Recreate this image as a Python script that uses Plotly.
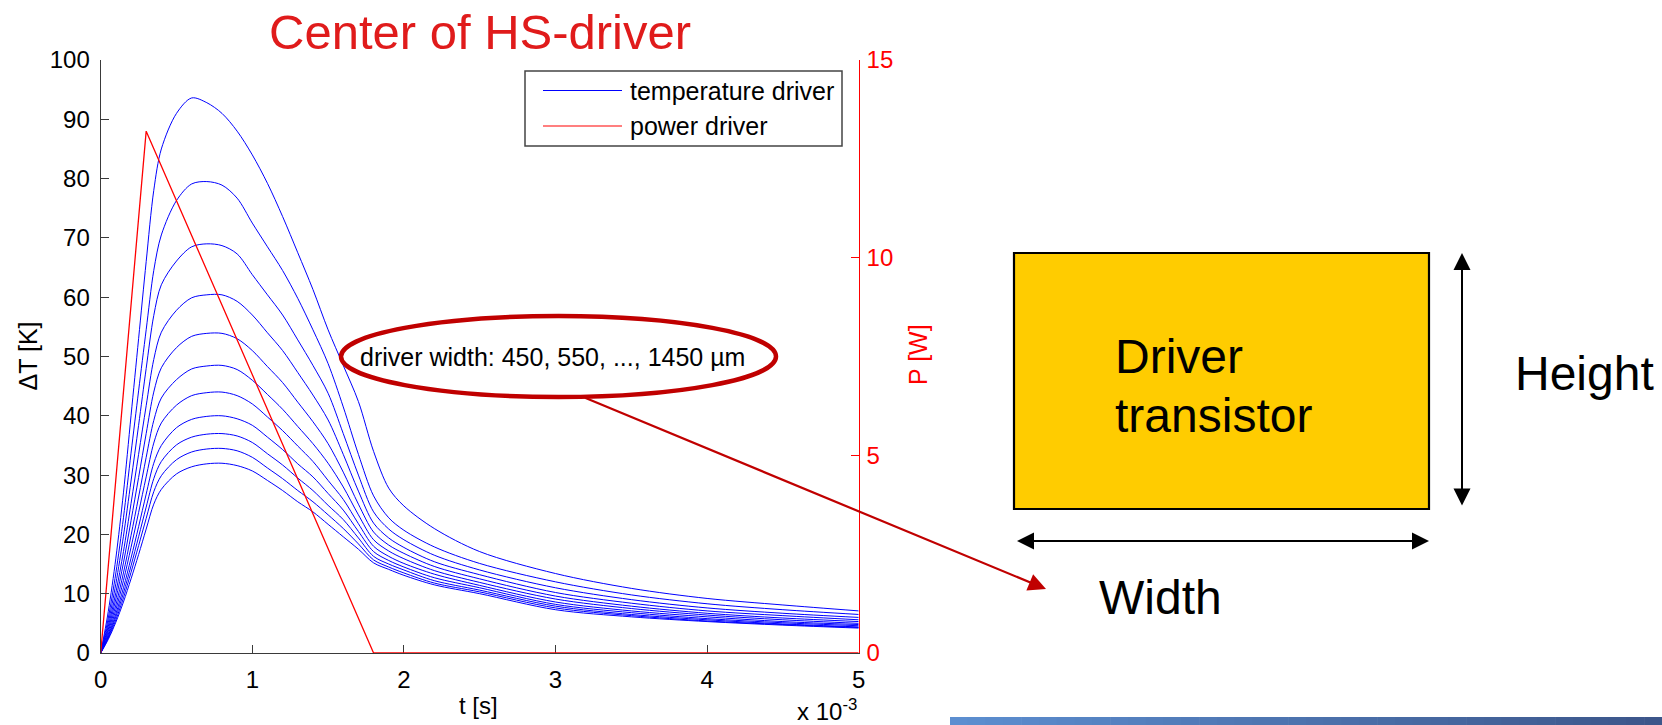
import plotly.graph_objects as go

W, H = 1662, 725

# ---------------- data ----------------
t_ms = [0, 0.05, 0.1, 0.15, 0.2, 0.25, 0.3, 0.35, 0.4, 0.5, 0.6, 0.7, 0.8, 0.9,
        1.0, 1.1, 1.2, 1.3, 1.4, 1.5, 1.6, 1.7, 1.8, 1.9, 2.0, 2.2, 2.5, 3.0,
        3.5, 4.0, 4.5, 5.0]

driver_widths_um = [450, 550, 650, 750, 850, 950, 1050, 1150, 1250, 1350, 1450]

dT_450 = [0, 7.0, 16.0, 27.0, 40.0, 53.0, 66.0, 78.0, 85.0, 91.0, 93.6, 92.8, 91.0, 88.0,
          84.0, 79.2, 73.6, 67.5, 61.3, 54.5, 48.5, 42.4, 34.0, 27.8, 24.8, 21.0, 17.1, 13.4,
          10.9, 9.2, 8.1, 7.1]
dT_550 = [0, 5.9, 13.5, 22.8, 33.7, 44.2, 54.5, 64.5, 70.5, 76.3, 79.1, 79.5, 78.9, 76.7,
          72.5, 68.5, 64.5, 59.8, 54.5, 48.8, 41.5, 33.5, 26.5, 22.8, 20.7, 17.9, 15.1, 12.0,
          9.8, 8.3, 7.3, 6.5]
dT_650 = [0, 5.1, 11.7, 19.7, 29.0, 38.4, 48.0, 56.9, 62.1, 66.1, 68.5, 69.0, 68.7, 67.3,
          63.8, 60.4, 57.0, 52.8, 48.5, 43.8, 37.0, 30.0, 23.8, 20.9, 19.1, 16.5, 14.0, 11.0,
          9.0, 7.6, 6.7, 6.0]
dT_750 = [0, 4.5, 10.2, 17.1, 25.2, 33.5, 41.7, 49.5, 54.1, 57.8, 59.9, 60.4, 60.4, 59.3,
          57.0, 54.0, 51.0, 47.3, 43.5, 39.3, 33.5, 27.3, 21.9, 19.4, 17.8, 15.4, 13.2, 10.2,
          8.4, 7.1, 6.3, 5.6]
dT_850 = [0, 4.0, 9.1, 15.2, 22.3, 29.6, 37.0, 44.0, 48.1, 51.5, 53.4, 53.9, 53.9, 53.0,
          51.0, 48.3, 45.6, 42.3, 39.0, 35.3, 30.5, 25.1, 20.4, 18.2, 16.8, 14.6, 12.5, 9.6,
          7.9, 6.7, 5.9, 5.3]
dT_950 = [0, 3.6, 8.1, 13.5, 19.8, 26.3, 33.0, 39.2, 43.0, 46.1, 47.9, 48.4, 48.5, 47.8,
          46.0, 43.6, 41.1, 38.2, 35.3, 32.0, 28.0, 23.3, 19.1, 17.2, 15.9, 13.9, 11.9, 9.1,
          7.5, 6.4, 5.6, 5.0]
dT_1050 = [0, 3.2, 7.3, 12.2, 17.8, 23.7, 29.7, 35.4, 38.8, 41.8, 43.4, 43.9, 44.0, 43.4,
           42.0, 39.8, 37.5, 34.9, 32.3, 29.1, 25.9, 21.8, 18.0, 16.3, 15.1, 13.3, 11.4, 8.6,
           7.1, 6.1, 5.3, 4.8]
dT_1150 = [0, 2.9, 6.6, 11.0, 16.0, 21.3, 26.8, 32.0, 35.0, 38.0, 39.4, 39.9, 40.0, 39.5,
           38.4, 36.4, 34.3, 31.9, 29.7, 26.9, 24.1, 20.5, 17.1, 15.6, 14.5, 12.7, 11.0, 8.2,
           6.8, 5.8, 5.1, 4.6]
dT_1250 = [0, 2.7, 6.1, 10.1, 14.7, 19.6, 24.6, 29.4, 32.3, 35.1, 36.4, 36.9, 37.0, 36.6,
           35.5, 33.6, 31.7, 29.5, 27.4, 24.9, 22.5, 19.4, 16.3, 15.0, 14.0, 12.2, 10.6, 7.9,
           6.5, 5.6, 4.9, 4.4]
dT_1350 = [0, 2.5, 5.6, 9.3, 13.6, 18.1, 22.7, 27.2, 29.9, 32.6, 33.9, 34.4, 34.5, 34.1,
           33.0, 31.2, 29.4, 27.4, 25.5, 23.3, 21.0, 18.4, 15.7, 14.5, 13.5, 11.8, 10.3, 7.6,
           6.3, 5.4, 4.8, 4.3]
dT_1450 = [0, 2.3, 5.2, 8.6, 12.5, 16.6, 20.9, 25.1, 27.6, 30.2, 31.4, 31.9, 32.0, 31.6,
           30.7, 29.1, 27.4, 25.5, 23.8, 21.7, 19.6, 17.5, 15.2, 14.1, 13.1, 11.5, 10.0, 7.3,
           6.1, 5.3, 4.7, 4.2]

t_power_ms = [0, 0.3, 1.8, 5.0]
power_W = [0, 13.2, 0, 0]

x_ticks = [0, 1, 2, 3, 4, 5]
y_ticks = [0, 10, 20, 30, 40, 50, 60, 70, 80, 90, 100]
y2_ticks = [0, 5, 10, 15]

dT_series = [dT_450, dT_550, dT_650, dT_750, dT_850, dT_950, dT_1050,
             dT_1150, dT_1250, dT_1350, dT_1450]

# ---------------- helpers ----------------
FONT = "Liberation Sans, Arial, sans-serif"
def px(x):
    return x / W
def py(y):
    return 1 - y / H

BLUE = "#0000FF"
RED = "#FF0000"
DARKRED = "#C00000"
AXIS = "#3A3A3A"

fig = go.Figure()

for w, s in zip(driver_widths_um, dT_series):
    fig.add_trace(go.Scatter(x=t_ms, y=s, mode="lines", name=f"{w} µm",
                             line=dict(color=BLUE, width=1.0, shape="spline", smoothing=0.9),
                             showlegend=False, yaxis="y"))

fig.add_trace(go.Scatter(x=t_power_ms, y=power_W, mode="lines", name="power driver",
                         line=dict(color=RED, width=1.3), showlegend=False, yaxis="y2"))

fig.update_layout(
    width=W, height=H, autosize=False,
    margin=dict(l=0, r=0, t=0, b=0, pad=0, autoexpand=False),
    paper_bgcolor="white", plot_bgcolor="white",
    font=dict(family=FONT, size=24, color="black"),
    xaxis=dict(domain=[px(100.7), px(858.7)], range=[0, 5], tickvals=x_ticks,
               ticktext=[str(v) for v in x_ticks], automargin=False,
               showgrid=False, zeroline=False, showline=True, linecolor=AXIS, linewidth=1.2,
               ticks="inside", ticklen=8, tickcolor=AXIS, tickwidth=1.2,
               tickfont=dict(size=24, color="black", family=FONT),
               ticklabelstandoff=5, layer="below traces", fixedrange=True),
    yaxis=dict(domain=[py(653), py(60)], range=[0, 100], tickvals=y_ticks, automargin=False,
               showgrid=False, zeroline=False, showline=True, linecolor=AXIS, linewidth=1.2,
               ticks="inside", ticklen=8, tickcolor=AXIS, tickwidth=1.2,
               tickfont=dict(size=24, color="black", family=FONT),
               ticklabelstandoff=5, fixedrange=True),
    yaxis2=dict(overlaying="y", side="right", anchor="x", range=[0, 15], tickvals=y2_ticks,
                automargin=False,
                showgrid=False, zeroline=False, showline=True, linecolor=RED, linewidth=1.2,
                ticks="inside", ticklen=8, tickcolor=RED, tickwidth=1.2,
                tickfont=dict(size=24, color=RED, family=FONT),
                ticklabelstandoff=2, fixedrange=True),
)

shapes = []
annotations = []

# legend (drawn manually to match the MATLAB legend box)
shapes.append(dict(type="rect", xref="paper", yref="paper",
                   x0=px(525), x1=px(842), y0=py(146), y1=py(71),
                   line=dict(color="#444444", width=1.5), fillcolor="white", layer="above"))
shapes.append(dict(type="line", xref="paper", yref="paper",
                   x0=px(543), x1=px(622), y0=py(90.5), y1=py(90.5),
                   line=dict(color=BLUE, width=1.2)))
shapes.append(dict(type="line", xref="paper", yref="paper",
                   x0=px(543), x1=px(622), y0=py(126), y1=py(126),
                   line=dict(color=RED, width=1.2)))
annotations.append(dict(text="temperature driver", xref="paper", yref="paper",
                        x=px(628), y=py(91), xanchor="left", yanchor="middle",
                        showarrow=False, font=dict(size=25, color="black", family=FONT)))
annotations.append(dict(text="power driver", xref="paper", yref="paper",
                        x=px(628), y=py(126), xanchor="left", yanchor="middle",
                        showarrow=False, font=dict(size=25, color="black", family=FONT)))

# title
annotations.append(dict(text="Center of HS-driver", xref="paper", yref="paper",
                        x=px(480), y=py(32), xanchor="center", yanchor="middle",
                        showarrow=False, font=dict(size=49, color="#E01B1B", family=FONT)))

# axis titles
annotations.append(dict(text="ΔT [K]", xref="paper", yref="paper",
                        x=px(27.5), y=py(356), xanchor="center", yanchor="middle",
                        textangle=-90, showarrow=False,
                        font=dict(size=25, color="black", family=FONT)))
annotations.append(dict(text="t [s]", xref="paper", yref="paper",
                        x=px(478), y=py(705), xanchor="center", yanchor="middle",
                        showarrow=False, font=dict(size=24, color="black", family=FONT)))
annotations.append(dict(text="x 10<sup>-3</sup>", xref="paper", yref="paper",
                        x=px(827), y=py(710), xanchor="center", yanchor="middle",
                        showarrow=False, font=dict(size=24, color="black", family=FONT)))
annotations.append(dict(text="P [W]", xref="paper", yref="paper",
                        x=px(918), y=py(355), xanchor="center", yanchor="middle",
                        textangle=-90, showarrow=False,
                        font=dict(size=25, color=RED, family=FONT)))

# ellipse callout
shapes.append(dict(type="circle", xref="paper", yref="paper",
                   x0=px(341), x1=px(776), y0=py(397), y1=py(316),
                   line=dict(color=DARKRED, width=4.5), fillcolor="rgba(0,0,0,0)"))
annotations.append(dict(text="driver width: 450, 550, ..., 1450 µm", xref="paper", yref="paper",
                        x=px(552), y=py(357), xanchor="center", yanchor="middle",
                        showarrow=False, font=dict(size=25, color="black", family=FONT)))
annotations.append(dict(text=" ", xref="paper", yref="paper", x=px(1046), y=py(589),
                        ax=583 - 1046, ay=397 - 589, axref="pixel", ayref="pixel",
                        showarrow=True, arrowhead=2, arrowsize=1.6, arrowwidth=2.2,
                        arrowcolor=DARKRED, standoff=0, startstandoff=0,
                        font=dict(size=2)))

# driver transistor sketch
shapes.append(dict(type="rect", xref="paper", yref="paper",
                   x0=px(1014), x1=px(1429), y0=py(509), y1=py(253),
                   line=dict(color="black", width=2.2), fillcolor="#FFCC00"))
annotations.append(dict(text="Driver", xref="paper", yref="paper",
                        x=px(1113), y=py(356), xanchor="left", yanchor="middle",
                        showarrow=False, font=dict(size=48, color="black", family=FONT)))
annotations.append(dict(text="transistor", xref="paper", yref="paper",
                        x=px(1113), y=py(415), xanchor="left", yanchor="middle",
                        showarrow=False, font=dict(size=48, color="black", family=FONT)))
annotations.append(dict(text="Height", xref="paper", yref="paper",
                        x=px(1513), y=py(373), xanchor="left", yanchor="middle",
                        showarrow=False, font=dict(size=48, color="black", family=FONT)))
annotations.append(dict(text="Width", xref="paper", yref="paper",
                        x=px(1097), y=py(597), xanchor="left", yanchor="middle",
                        showarrow=False, font=dict(size=48, color="black", family=FONT)))
# double arrows
annotations.append(dict(text=" ", xref="paper", yref="paper", x=px(1462), y=py(253),
                        ax=0, ay=508 - 253, axref="pixel", ayref="pixel",
                        showarrow=True, arrowside="end+start", arrowhead=2, startarrowhead=2,
                        arrowsize=1.7, startarrowsize=1.7, arrowwidth=2, arrowcolor="black",
                        standoff=0, startstandoff=0, font=dict(size=2)))
annotations.append(dict(text=" ", xref="paper", yref="paper", x=px(1429), y=py(541),
                        ax=1015 - 1429, ay=0, axref="pixel", ayref="pixel",
                        showarrow=True, arrowside="end+start", arrowhead=2, startarrowhead=2,
                        arrowsize=1.7, startarrowsize=1.7, arrowwidth=2, arrowcolor="black",
                        standoff=0, startstandoff=0, font=dict(size=2)))

# slide footer bar (gradient)
n_seg = 40
c0 = (92, 142, 208)
c1 = (60, 86, 138)
x_start, x_end = 950, 1662
for i in range(n_seg):
    f = i / (n_seg - 1)
    col = "rgb(%d,%d,%d)" % tuple(round(a + (b - a) * f) for a, b in zip(c0, c1))
    xa = x_start + (x_end - x_start) * i / n_seg
    xb = x_start + (x_end - x_start) * (i + 1) / n_seg + 0.6
    shapes.append(dict(type="rect", xref="paper", yref="paper",
                       x0=px(xa), x1=px(min(xb, W)), y0=0, y1=py(717),
                       line=dict(width=0), fillcolor=col))

fig.update_layout(shapes=shapes, annotations=annotations)
fig.write_html("out.html",
               config={"displayModeBar": False},
               post_script="document.body.style.margin='0px';"
                           "document.body.style.padding='0px';"
                           "document.body.style.overflow='hidden';")
